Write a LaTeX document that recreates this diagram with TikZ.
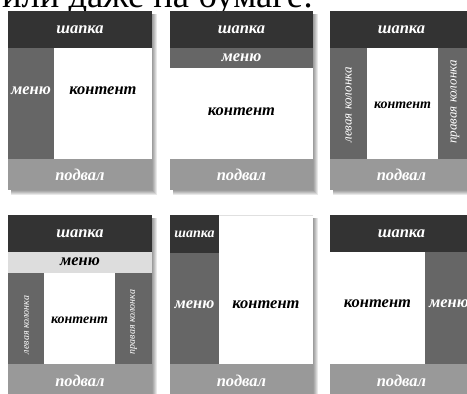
\documentclass[tikz,border=0pt]{standalone}
\usepackage{fontspec}
\setmainfont{Liberation Serif}
\definecolor{hdr}{HTML}{333333}
\definecolor{mnu}{HTML}{666666}
\definecolor{ftr}{HTML}{999999}
\definecolor{lite}{HTML}{DDDDDD}
\newcommand\pshadow[4]{\foreach \k in {1,...,5}{\fill[black,opacity=0.09] (#1+3,#2+3) rectangle (#3+\k,#4+\k);}}
\tikzset{
  wl/.style={inner sep=0, text=white, font=\bfseries\itshape\fontsize{16.5}{16.5}\selectfont},
  bl/.style={inner sep=0, text=black, font=\bfseries\itshape\fontsize{16.5}{16.5}\selectfont},
  small/.style={font=\bfseries\itshape\fontsize{14}{14}\selectfont},
  tiny/.style={font=\itshape\fontsize{13}{13}\selectfont},
  tinier/.style={font=\itshape\fontsize{10}{10}\selectfont},
}
\begin{document}
\begin{tikzpicture}[x=1pt,y=-1pt]
\useasboundingbox (0,0) rectangle (467,394);
\fill[white] (0,0) rectangle (467,394);
\node[anchor=base west, inner sep=0, font=\fontsize{36.5}{36.5}\selectfont] (title) at (2,7) {или даже на бумаге:};

% panel 1
\pshadow{8}{11}{152}{190}
\fill[hdr] (8,11) rectangle (152,48);
\fill[mnu] (8,48) rectangle (54,159);
\fill[white] (54,48) rectangle (152,159);
\fill[ftr] (8,159) rectangle (152,190);
\node[wl] (h1) at (80,30) {шапка};
\node[wl] (m1) at (31,91) {меню};
\node[bl] (c1) at (103,91) {контент};
\node[wl] (f1) at (80,175) {подвал};

% panel 2
\pshadow{170}{11}{313}{190}
\fill[hdr] (170,11) rectangle (313,48);
\fill[mnu] (170,48) rectangle (313,68);
\fill[white] (170,68) rectangle (313,159);
\fill[ftr] (170,159) rectangle (313,190);
\node[wl] (h2) at (241.5,30) {шапка};
\node[wl] (m2) at (241.5,58) {меню};
\node[bl] (c2) at (241.5,112) {контент};
\node[wl] (f2) at (241.5,175) {подвал};

% panel 3
\pshadow{330}{11}{473}{190}
\fill[hdr] (330,11) rectangle (473,48);
\fill[mnu] (330,48) rectangle (367,159);
\fill[white] (367,48) rectangle (438,159);
\fill[mnu] (438,48) rectangle (473,159);
\fill[ftr] (330,159) rectangle (473,190);
\node[wl] (h3) at (401.5,30) {шапка};
\node[wl,tiny,rotate=90] (l3) at (348.5,105) {левая колонка};
\node[bl,small] (c3) at (402.5,105) {контент};
\node[wl,tiny,rotate=90] (r3) at (455,102) {правая колонка};
\node[wl] (f3) at (401.5,175) {подвал};

% panel 4
\pshadow{8}{215}{152}{395}
\fill[hdr] (8,215) rectangle (152,252);
\fill[lite] (8,252) rectangle (152,273);
\fill[mnu] (8,273) rectangle (44,364);
\fill[white] (44,273) rectangle (115,364);
\fill[mnu] (115,273) rectangle (152,364);
\fill[ftr] (8,364) rectangle (152,395);
\node[wl] (h4) at (80,234) {шапка};
\node[bl] (m4) at (80,262) {меню};
\node[wl,tinier,rotate=90] (l4) at (26.5,325) {левая колонка};
\node[bl,small] (c4) at (79.5,320) {контент};
\node[wl,tinier,rotate=90] (r4) at (133.5,322) {правая колонка};
\node[wl] (f4) at (80,381) {подвал};

% panel 5
\pshadow{170}{215}{313}{395}
\fill[white] (170,215) rectangle (313,364);
\draw[black!12,line width=0.6pt] (219,215.3) -- (313,215.3);
\fill[hdr] (170,215) rectangle (219,253);
\fill[mnu] (170,253) rectangle (219,364);
\fill[ftr] (170,364) rectangle (313,395);
\node[wl,small] (h5) at (194.5,234) {шапка};
\node[wl] (m5) at (194.5,305) {меню};
\node[bl] (c5) at (266,305) {контент};
\node[wl] (f5) at (241.5,381) {подвал};

% panel 6
\pshadow{330}{215}{473}{395}
\fill[hdr] (330,215) rectangle (473,252);
\fill[white] (330,252) rectangle (425,364);
\fill[mnu] (425,252) rectangle (473,364);
\fill[ftr] (330,364) rectangle (473,395);
\node[wl] (h6) at (401.5,234) {шапка};
\node[bl] (c6) at (377.5,304) {контент};
\node[wl] (m6) at (449,304) {меню};
\node[wl] (f6) at (401.5,381) {подвал};
\end{tikzpicture}
\end{document}
